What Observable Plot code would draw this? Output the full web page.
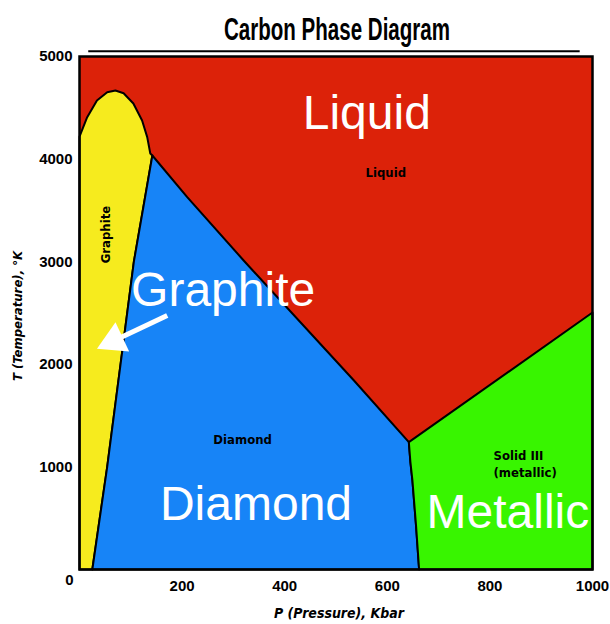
<!DOCTYPE html>
<html>
<head>
<meta charset="utf-8">
<script src="https://cdn.jsdelivr.net/npm/d3@7"></script>
<script src="https://cdn.jsdelivr.net/npm/@observablehq/plot@0.6"></script>
<style>
  html, body { margin: 0; padding: 0; background: #fff; }
  #chart { width: 610px; height: 624px; }
</style>
</head>
<body>
<div id="chart"></div>
<script>
// ---- Data (pressure in kbar, temperature in K) ----
const xTicks = [200, 400, 600, 800, 1000];
const yTicks = [1000, 2000, 3000, 4000, 5000];

// Graphite region boundary
const graphiteP = [0, 0, 15, 34, 54, 70, 86, 105, 122, 132, 138, 142, 106, 80, 54, 25, 0];
const graphiteT = [0, 4220, 4408, 4571, 4652, 4669, 4642, 4542, 4376, 4214, 4055, 4035, 3000, 2000, 1000, 0, 0];

// Diamond region boundary
const diamondP = [25, 54, 80, 106, 142, 210, 320, 535, 642, 645, 649, 656, 662, 25];
const diamondT = [0, 1000, 2000, 3000, 4035, 3629, 3012, 1842, 1241, 1050, 867, 430, 0, 0];

// Metallic (Solid III) region boundary
const metallicP = [662, 1000, 1000, 642, 645, 649, 656, 662];
const metallicT = [0, 0, 2505, 1241, 1050, 867, 430, 0];

// Labels
const bigLabels = ["Liquid", "Graphite", "Diamond", "Metallic"];
const bigLabelP = [560, 280, 344, 835];
const bigLabelT = [4298, 2573, 478, 400];

const smallLabels = ["Liquid", "Diamond"];
const smallLabelP = [597, 318];
const smallLabelT = [3821, 1228];

const solidLabel = "Solid III\n(metallic)";
const solidLabelP = [807];
const solidLabelT = [906];

const arrowFrom = [171, 2476];
const arrowHead = [67, 2229];

const title = "Carbon Phase Diagram";
const xLabel = "P (Pressure), Kbar";
const yLabel = "T (Temperature), °K";

const toRows = (P, T) => P.map((p, i) => ({P: p, T: T[i]}));
const graphite = toRows(graphiteP, graphiteT);
const diamond = toRows(diamondP, diamondT);
const metallic = toRows(metallicP, metallicT);
const big = bigLabels.map((t, i) => ({text: t, P: bigLabelP[i], T: bigLabelT[i]}));
const small = smallLabels.map((t, i) => ({text: t, P: smallLabelP[i], T: smallLabelT[i]}));

const RED = "#dc2209", YELLOW = "#f6eb1e", BLUE = "#1784f7", GREEN = "#38f500";
const NARROW = "'Liberation Sans Narrow', 'DejaVu Sans Condensed', sans-serif";

const chart = Plot.plot({
  width: 610,
  height: 624,
  marginLeft: 79,
  marginRight: 18,
  marginTop: 56,
  marginBottom: 55,
  style: {fontFamily: "'Liberation Sans', Arial, sans-serif", fontSize: "15px", fontWeight: "bold", background: "#fff", color: "#000"},
  x: {domain: [0, 1000], ticks: xTicks, tickSize: 0, tickPadding: 11, tickFormat: d3.format("d"), label: null},
  y: {domain: [0, 5000], ticks: yTicks, tickSize: 0, tickPadding: 7, tickFormat: d3.format("d"), label: null},
  marks: [
    Plot.frame({fill: RED}),
    Plot.line(graphite, {x: "P", y: "T", fill: YELLOW, stroke: "black", strokeWidth: 2}),
    Plot.line(diamond, {x: "P", y: "T", fill: BLUE, stroke: "black", strokeWidth: 2}),
    Plot.line(metallic, {x: "P", y: "T", fill: GREEN, stroke: "black", strokeWidth: 2}),
    Plot.frame({stroke: "black", strokeWidth: 2.5}),
    // small original labels
    Plot.text(small, {x: "P", y: "T", text: "text", textAnchor: "middle",
      lineAnchor: "bottom", fontFamily: NARROW, fontSize: 13, fontWeight: "bold", fill: "black"}),
    Plot.text([solidLabel], {x: solidLabelP, y: solidLabelT, text: (d) => d, textAnchor: "start",
      lineAnchor: "bottom", fontFamily: NARROW, fontSize: 13, fontWeight: "bold", fill: "black", lineHeight: 1.3}),
    Plot.text(["Graphite"], {x: [51], y: [3265], text: (d) => d, rotate: -90, fontFamily: NARROW, fontSize: 13, fontWeight: "bold", fill: "black"}),
    // big white labels
    Plot.text(big, {x: "P", y: "T", text: "text", lineAnchor: "bottom", fontFamily: "'Liberation Sans', Arial, sans-serif",
      fontSize: 48, fontWeight: "normal", fill: "white"}),
    // arrow
    Plot.link([0], {x1: [arrowFrom[0]], y1: [arrowFrom[1]], x2: [arrowHead[0]], y2: [arrowHead[1]], stroke: "white", strokeWidth: 5}),
    Plot.dot([0], {x: [arrowHead[0]], y: [arrowHead[1]], symbol: "triangle", r: 12, rotate: 245, fill: "white", stroke: "none"}),
    // title rule
    Plot.ruleY([5050], {x1: 18, x2: 976, stroke: "black", strokeWidth: 2, clip: false}),
    // title & axis labels
    Plot.text([title], {frameAnchor: "top", lineAnchor: "bottom", dy: -17, dx: 1, fontSize: 32, fontWeight: "bold", fill: "black"}),
    Plot.text([xLabel], {frameAnchor: "bottom", textAnchor: "middle", lineAnchor: "bottom", dy: 48, dx: 3, fontFamily: NARROW, fontSize: 14, fontWeight: "bold", fontStyle: "italic", fill: "black"}),
    Plot.text([yLabel], {frameAnchor: "left", textAnchor: "middle", dx: -62, dy: 3, rotate: -90, fontFamily: NARROW, fontSize: 13, fontWeight: "bold", fontStyle: "italic", fill: "black"}),
    Plot.text(["0"], {x: [0], y: [0], dx: -10, dy: 11, fontSize: 15, fontWeight: "bold", fill: "black"})
  ]
});

chart.querySelectorAll("text").forEach((t) => {
  if (t.textContent === title) {
    t.setAttribute("textLength", "226");
    t.setAttribute("lengthAdjust", "spacingAndGlyphs");
  }
});

document.getElementById("chart").appendChild(chart);
</script>
</body>
</html>
